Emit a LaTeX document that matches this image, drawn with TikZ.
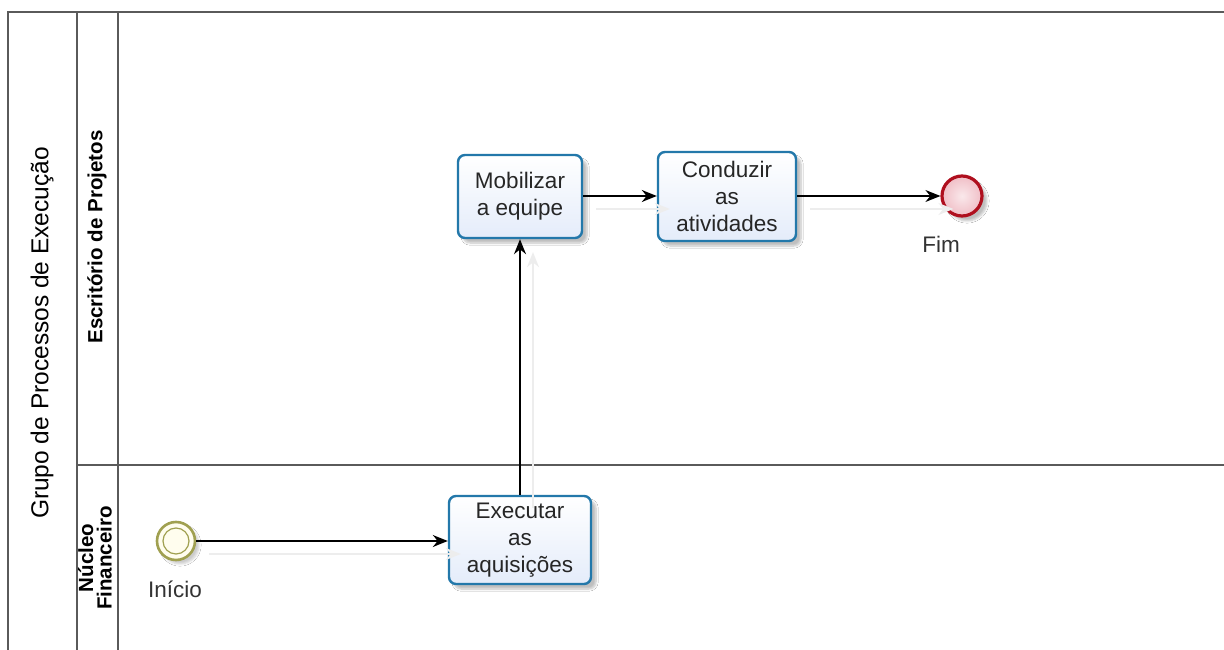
\documentclass[tikz,border=0pt]{standalone}
\usepackage{fontspec}
\setmainfont{Liberation Sans}
\usetikzlibrary{arrows.meta,shadows.blur}

\definecolor{taskborder}{RGB}{35,120,170}
\definecolor{taskfill}{RGB}{228,236,250}
\definecolor{startline}{RGB}{160,160,80}
\definecolor{startfill}{RGB}{255,253,238}
\definecolor{endline}{RGB}{175,15,30}
\definecolor{endfill}{RGB}{240,190,198}
\definecolor{poolline}{RGB}{90,90,90}

\tikzset{
  poolrule/.style={draw=poolline, line width=1.4pt},
  task/.style={draw=taskborder, line width=2.4pt, rounded corners=7pt,
    top color=white, bottom color=taskfill, align=center, text=black!85,
    font=\fontsize{22.5}{27}\selectfont, inner sep=0pt,
    blur shadow={shadow xshift=5pt, shadow yshift=-5pt, shadow opacity=25, shadow blur steps=6}},
  startev/.style={circle, draw=startline, line width=2.6pt, fill=startfill,
    minimum size=38pt, inner sep=0pt,
    blur shadow={shadow xshift=4pt, shadow yshift=-4pt, shadow opacity=20, shadow blur steps=5}},
  endev/.style={circle, draw=endline, line width=3.2pt, inner color=endfill!35, outer color=endfill,
    minimum size=40pt, inner sep=0pt,
    blur shadow={shadow xshift=5pt, shadow yshift=-5pt, shadow opacity=25, shadow blur steps=5}},
  evlabel/.style={font=\fontsize{22.5}{26}\selectfont, text=black!80},
  flow/.style={-{Stealth[length=15pt,width=12pt]}, line width=1.6pt, black,
    preaction={draw=black!7, line width=1.4pt, -{Stealth[length=15pt,width=12pt]},
      transform canvas={shift={(13pt,-13pt)}}}},
  poollabel/.style={rotate=90, font=\fontsize{24.5}{29}\selectfont},
  lanelabel/.style={rotate=90, font=\bfseries\fontsize{20.5}{18.5}\selectfont, align=center},
}

\begin{document}
\begin{tikzpicture}[x=1pt, y=-1pt]
  \useasboundingbox (0,0) rectangle (1224,650);
  \fill[white] (0,0) rectangle (1224,650);

  % pool and lane frame
  \draw[poolrule] (1224,12) -- (8,12) -- (8,650);
  \draw[poolrule] (77,12) -- (77,650);
  \draw[poolrule] (118,12) -- (118,650);
  \draw[poolrule] (77,465) -- (1224,465);

  % pool and lane titles
  \node[poollabel] (pool) at (42,333) {Grupo de Processos de Execução};
  \node[lanelabel] (laneA) at (97,237) {Escritório de Projetos};
  \begin{scope}
    \clip (77.7,466) rectangle (117.3,650);
    \node[lanelabel] (laneB) at (95,558) {Núcleo\\Financeiro};
  \end{scope}

  % events
  \node[startev] (start) at (176,541) {};
  \node[circle, draw=startline, line width=1.2pt, minimum size=26pt, inner sep=0pt] (startin) at (176,541) {};
  \node[evlabel] (startlbl) at (175,589) {Início};

  \node[endev] (fim) at (962,196) {};
  \node[evlabel] (fimlbl) at (941,244) {Fim};

  % tasks
  \node[task, minimum width=124pt, minimum height=83pt] (mob) at (520,196.5) {Mobilizar\\a equipe};
  \node[task, minimum width=138pt, minimum height=89pt] (cond) at (727,196.5) {Conduzir\\as\\atividades};
  \node[task, minimum width=142pt, minimum height=88pt] (exec) at (520,540) {Executar\\as\\aquisições};

  % sequence flows
  \draw[flow] (start.east) -- (start.east -| exec.west);
  \draw[flow] (exec.north) -- (mob.south);
  \draw[flow] (mob.east |- fim.west) -- (cond.west |- fim.west);
  \draw[flow] (cond.east |- fim.west) -- (fim.west);
\end{tikzpicture}
\end{document}
